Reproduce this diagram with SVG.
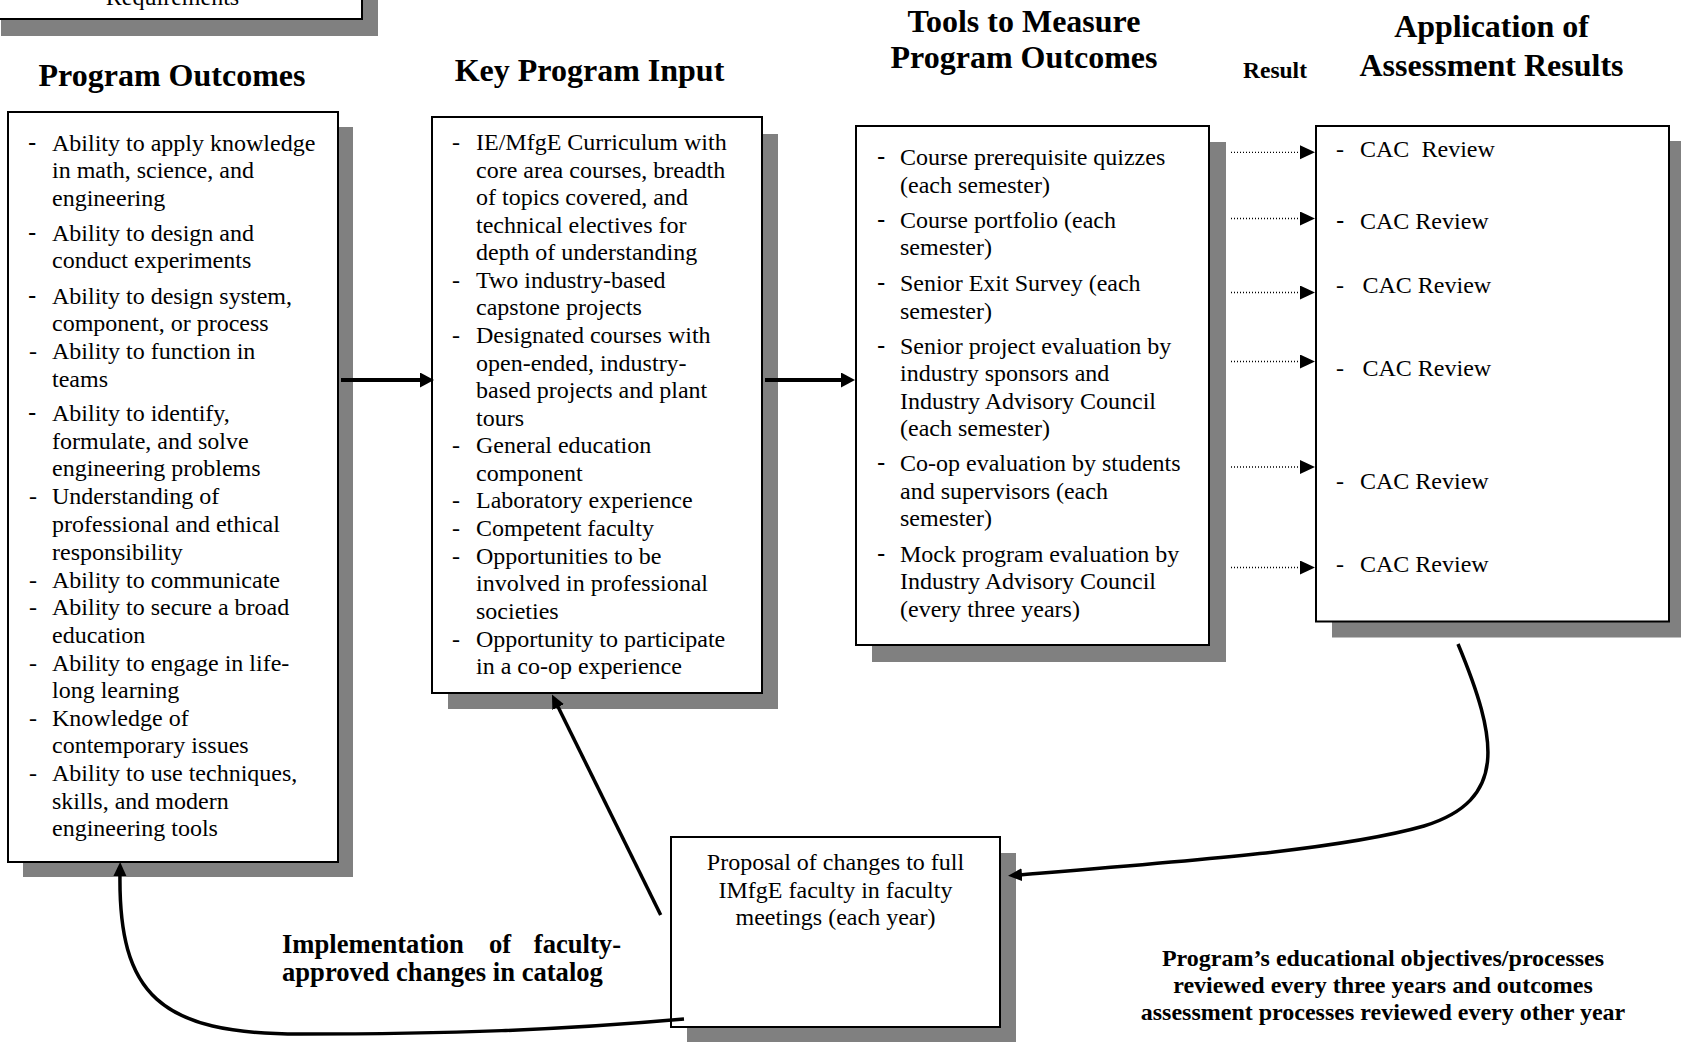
<svg xmlns="http://www.w3.org/2000/svg" width="1681" height="1042" viewBox="0 0 1681 1042">
<style>
  text { font-family: "Liberation Serif", "Times New Roman", serif; fill: #000; }
  .t { font-size: 24px; }
  .h { font-size: 32px; font-weight: bold; text-anchor: middle; }
  .b { font-weight: bold; }
  .dl { font-family: "Liberation Sans", Arial, sans-serif; font-size: 25px; }
  .box { fill: #fff; stroke: #000; stroke-width: 2; }
  .sh { fill: #808080; }
  .thick { stroke: #000; stroke-width: 4; fill: none; }
  .curve { stroke: #000; stroke-width: 3.5; fill: none; }
  .dot { stroke: #000; stroke-width: 1.3; stroke-dasharray: 1 2; fill: none; }
</style>
<defs>
  <marker id="ah" markerUnits="userSpaceOnUse" markerWidth="16" markerHeight="16" refX="4" refY="7.5" orient="auto">
    <path d="M0,0 L14,7.5 L0,15 z" fill="#000"/>
  </marker>
  <marker id="ahc" markerUnits="userSpaceOnUse" markerWidth="16" markerHeight="14" refX="4" refY="6.5" orient="auto">
    <path d="M0,0 L14,6.5 L0,13 z" fill="#000"/>
  </marker>
  <marker id="ahd" markerUnits="userSpaceOnUse" markerWidth="16" markerHeight="15" refX="3" refY="7" orient="auto">
    <path d="M0,0 L15,7 L0,14 z" fill="#000"/>
  </marker>
</defs>
<rect width="1681" height="1042" fill="#fff"/>

<!-- top-left partially visible box -->
<g id="requirements">
  <rect class="sh" x="1" y="-84" width="377" height="120"/>
  <rect class="box" x="-15" y="-100" width="377" height="119"/>
  <text class="t" x="172.5" y="5" text-anchor="middle">Requirements</text>
</g>

<!-- column titles -->
<g id="titles">
  <text class="h" x="172" y="86">Program Outcomes</text>
  <text class="h" x="589.5" y="81">Key Program Input</text>
  <text class="h" x="1024" y="31.5">Tools to Measure</text>
  <text class="h" x="1024" y="68">Program Outcomes</text>
  <text class="h" x="1491.5" y="37">Application of</text>
  <text class="h" x="1491.5" y="75.5">Assessment Results</text>
  <text class="b" x="1243" y="77.7" font-size="23.5">Result</text>
</g>

<!-- Program Outcomes box -->
<g id="program-outcomes">
  <rect class="sh" x="23" y="127" width="330" height="750"/>
  <rect class="box" x="8" y="112" width="330" height="750"/>
  <text class="dl" x="28" y="150.5">-</text>
  <text class="dl" x="28" y="240.5">-</text>
  <text class="dl" x="28" y="303.5">-</text>
  <text class="dl" x="28" y="421">-</text>
  <g class="t">
    <text x="29" y="359">-</text>
    <text x="29" y="504">-</text>
    <text x="29" y="587.5">-</text>
    <text x="29" y="615">-</text>
    <text x="29" y="670.5">-</text>
    <text x="29" y="725.5">-</text>
    <text x="29" y="780.5">-</text>
    <text x="52" y="150.5">Ability to apply knowledge</text>
    <text x="52" y="178">in math, science, and</text>
    <text x="52" y="205.5">engineering</text>
    <text x="52" y="240.5">Ability to design and</text>
    <text x="52" y="268">conduct experiments</text>
    <text x="52" y="303.5">Ability to design system,</text>
    <text x="52" y="331">component, or process</text>
    <text x="52" y="359">Ability to function in</text>
    <text x="52" y="386.5">teams</text>
    <text x="52" y="421">Ability to identify,</text>
    <text x="52" y="448.5">formulate, and solve</text>
    <text x="52" y="476">engineering problems</text>
    <text x="52" y="504">Understanding of</text>
    <text x="52" y="532">professional and ethical</text>
    <text x="52" y="559.5">responsibility</text>
    <text x="52" y="587.5">Ability to communicate</text>
    <text x="52" y="615">Ability to secure a broad</text>
    <text x="52" y="642.5">education</text>
    <text x="52" y="670.5">Ability to engage in life-</text>
    <text x="52" y="698">long learning</text>
    <text x="52" y="725.5">Knowledge of</text>
    <text x="52" y="753">contemporary issues</text>
    <text x="52" y="780.5">Ability to use techniques,</text>
    <text x="52" y="808.5">skills, and modern</text>
    <text x="52" y="836">engineering tools</text>
  </g>
</g>

<!-- Key Program Input box -->
<g id="key-program-input">
  <rect class="sh" x="448" y="134" width="330" height="575"/>
  <rect class="box" x="432" y="117" width="330" height="576"/>
  <g class="t">
    <text x="452" y="150">-</text>
    <text x="452" y="288">-</text>
    <text x="452" y="343">-</text>
    <text x="452" y="453">-</text>
    <text x="452" y="508">-</text>
    <text x="452" y="536">-</text>
    <text x="452" y="563.5">-</text>
    <text x="452" y="646.5">-</text>
    <text x="476" y="150">IE/MfgE Curriculum with</text>
    <text x="476" y="177.5">core area courses, breadth</text>
    <text x="476" y="205">of topics covered, and</text>
    <text x="476" y="232.5">technical electives for</text>
    <text x="476" y="260">depth of understanding</text>
    <text x="476" y="288">Two industry-based</text>
    <text x="476" y="315">capstone projects</text>
    <text x="476" y="343">Designated courses with</text>
    <text x="476" y="370.5">open-ended, industry-</text>
    <text x="476" y="398">based projects and plant</text>
    <text x="476" y="425.5">tours</text>
    <text x="476" y="453">General education</text>
    <text x="476" y="480.5">component</text>
    <text x="476" y="508">Laboratory experience</text>
    <text x="476" y="536">Competent faculty</text>
    <text x="476" y="563.5">Opportunities to be</text>
    <text x="476" y="591">involved in professional</text>
    <text x="476" y="618.5">societies</text>
    <text x="476" y="646.5">Opportunity to participate</text>
    <text x="476" y="674">in a co-op experience</text>
  </g>
</g>

<!-- Tools box -->
<g id="tools">
  <rect class="sh" x="872" y="142" width="354" height="520"/>
  <rect class="box" x="856" y="126" width="353" height="519"/>
  <text class="dl" x="877" y="165">-</text>
  <text class="dl" x="877" y="227.5">-</text>
  <text class="dl" x="877" y="291">-</text>
  <text class="dl" x="877" y="353.5">-</text>
  <text class="dl" x="877" y="471">-</text>
  <text class="dl" x="877" y="561.5">-</text>
  <g class="t">
    <text x="900" y="165">Course prerequisite quizzes</text>
    <text x="900" y="192.5">(each semester)</text>
    <text x="900" y="227.5">Course portfolio (each</text>
    <text x="900" y="255">semester)</text>
    <text x="900" y="291">Senior Exit Survey (each</text>
    <text x="900" y="318.5">semester)</text>
    <text x="900" y="353.5">Senior project evaluation by</text>
    <text x="900" y="381">industry sponsors and</text>
    <text x="900" y="408.5">Industry Advisory Council</text>
    <text x="900" y="436">(each semester)</text>
    <text x="900" y="471">Co-op evaluation by students</text>
    <text x="900" y="498.5">and supervisors (each</text>
    <text x="900" y="526">semester)</text>
    <text x="900" y="561.5">Mock program evaluation by</text>
    <text x="900" y="589">Industry Advisory Council</text>
    <text x="900" y="616.5">(every three years)</text>
  </g>
</g>

<!-- Application of Assessment Results box -->
<g id="assessment-results">
  <rect class="sh" x="1332" y="141" width="349" height="496.5"/>
  <rect class="box" x="1316" y="126" width="353" height="495.5"/>
  <text class="dl" x="1336" y="229.3">-</text>
  <g class="t">
    <text x="1336" y="157.3">-</text>
    <text x="1336" y="293.3">-</text>
    <text x="1336" y="376">-</text>
    <text x="1336" y="489.3">-</text>
    <text x="1336" y="572.3">-</text>
    <text x="1360" y="157.3">CAC<tspan x="1421.5">Review</tspan></text>
    <text x="1360" y="229.3">CAC Review</text>
    <text x="1362.5" y="293.3">CAC Review</text>
    <text x="1362.5" y="376">CAC Review</text>
    <text x="1360" y="489.3">CAC Review</text>
    <text x="1360" y="572.3">CAC Review</text>
  </g>
</g>

<!-- Proposal box -->
<g id="proposal">
  <rect class="sh" x="687" y="853" width="329" height="195"/>
  <rect class="box" x="671" y="837" width="329" height="190"/>
  <g class="t" text-anchor="middle">
    <text x="835.5" y="870">Proposal of changes to full</text>
    <text x="835.5" y="897.5">IMfgE faculty in faculty</text>
    <text x="835.5" y="925">meetings (each year)</text>
  </g>
</g>

<!-- free labels -->
<g id="labels">
  <g class="b" font-size="26.6px">
    <text x="282" y="952.5">Implementation</text>
    <text x="489" y="952.5">of</text>
    <text x="621" y="952.5" text-anchor="end">faculty-</text>
    <text x="282" y="981">approved changes in catalog</text>
  </g>
  <g class="b" font-size="24px" text-anchor="middle">
    <text x="1383" y="965.5">Program’s educational objectives/processes</text>
    <text x="1383" y="992.5">reviewed every three years and outcomes</text>
    <text x="1383" y="1019.5">assessment processes reviewed every other year</text>
  </g>
</g>

<!-- connectors -->
<g id="connectors">
  <line class="thick" x1="341" y1="380" x2="424" y2="380" marker-end="url(#ah)"/>
  <line class="thick" x1="765" y1="380" x2="845" y2="380" marker-end="url(#ah)"/>
  <line class="dot" x1="1231" y1="152.3" x2="1303" y2="152.3" marker-end="url(#ahd)"/>
  <line class="dot" x1="1231" y1="218.5" x2="1303" y2="218.5" marker-end="url(#ahd)"/>
  <line class="dot" x1="1231" y1="292.5" x2="1303" y2="292.5" marker-end="url(#ahd)"/>
  <line class="dot" x1="1231" y1="361.5" x2="1303" y2="361.5" marker-end="url(#ahd)"/>
  <line class="dot" x1="1231" y1="467" x2="1303" y2="467" marker-end="url(#ahd)"/>
  <line class="dot" x1="1231" y1="567.5" x2="1303" y2="567.5" marker-end="url(#ahd)"/>
  <path class="curve" d="M1458,644 C1498,740 1508,800 1424,826 C1340,850 1180,862 1018,875" marker-end="url(#ahc)"/>
  <line class="curve" stroke-width="3" x1="660.7" y1="915" x2="556.4" y2="703.5" marker-end="url(#ahc)"/>
  <path class="curve" d="M684,1019 C560,1030 450,1034 300,1034 C160,1034 118,995 120,872" marker-end="url(#ahc)"/>
</g>
</svg>
